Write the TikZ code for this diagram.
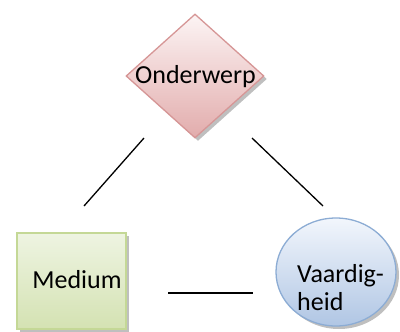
\documentclass[tikz,border=0pt]{standalone}
\usepackage{fontspec}
\setmainfont{Carlito}
\usetikzlibrary{shapes.geometric,shadows}
\definecolor{pinkB}{RGB}{214,150,150}
\definecolor{pinkT}{RGB}{252,244,244}
\definecolor{pinkD}{RGB}{226,172,172}
\definecolor{grnB}{RGB}{196,216,150}
\definecolor{grnT}{RGB}{238,244,226}
\definecolor{grnD}{RGB}{212,226,178}
\definecolor{bluB}{RGB}{140,172,212}
\definecolor{bluT}{RGB}{242,246,252}
\definecolor{bluD}{RGB}{176,198,228}
\tikzset{
  shapebox/.style={inner sep=0pt, line width=1.3bp,
    drop shadow={shadow xshift=3bp, shadow yshift=-3bp, fill=black!50, opacity=0.5}},
  diam/.style={shapebox, shape=diamond, draw=pinkB, top color=pinkT, bottom color=pinkD},
  medbox/.style={shapebox, shape=rectangle, draw=grnB, top color=grnT, bottom color=grnD},
  ell/.style={shapebox, shape=ellipse, draw=bluB, top color=bluT, bottom color=bluD},
  txt/.style={inner sep=0pt, font=\fontsize{26bp}{28bp}\selectfont},
  conn/.style={line width=1.3bp, black}
}
\begin{document}
\begin{tikzpicture}[x=1bp,y=-1bp]
\useasboundingbox (0,0) rectangle (400,332);
\node[diam, minimum width=138bp, minimum height=124bp] (ond) at (195,76) {};
\node[txt, anchor=base] (ondt) at (195.5,83) {Onderwerp};
\node[medbox, minimum width=109bp, minimum height=96bp] (med) at (71.5,281) {};
\node[txt, anchor=base] (medt) at (77,288) {Medium};
\node[ell, minimum width=120bp, minimum height=108bp] (vaa) at (336,272) {};
\node[txt, anchor=base west, align=left] (vaat) at (297,310) {Vaardig-\\heid};
\coordinate (l1) at (144,138);
\coordinate (l2) at (84,206);
\coordinate (r1) at (252,138);
\coordinate (r2) at (323,206);
\coordinate (b1) at (168,293);
\coordinate (b2) at (253,293);
\draw[conn] (l1) -- (l2);
\draw[conn] (r1) -- (r2);
\draw[conn] (b1) -- (b2);
\end{tikzpicture}
\end{document}
